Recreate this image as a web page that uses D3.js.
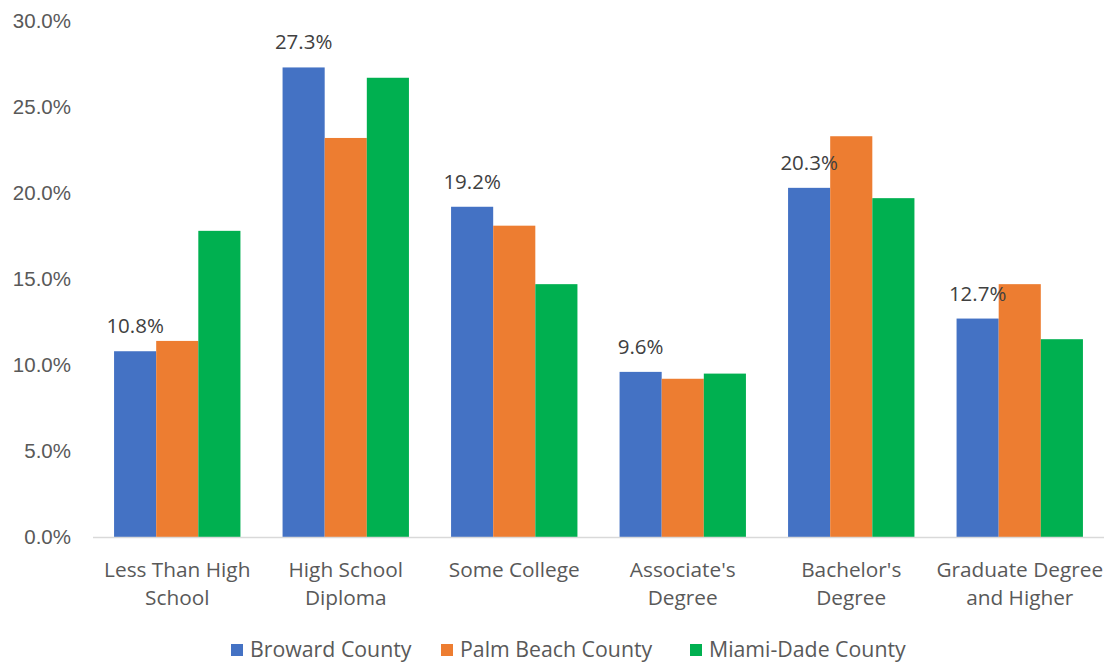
<!DOCTYPE html>
<html>
<head>
<meta charset="utf-8">
<script src="https://cdn.jsdelivr.net/npm/d3@7"></script>
<style>
  html, body { margin: 0; padding: 0; background: #ffffff; }
  svg { display: block; font-family: "Open Sans", sans-serif; }
</style>
</head>
<body>
<svg id="chart" width="1107" height="662"></svg>
<script>
// Educational attainment shares by county
const categories = [
  ["Less Than High", "School"],
  ["High School", "Diploma"],
  ["Some College"],
  ["Associate's", "Degree"],
  ["Bachelor's", "Degree"],
  ["Graduate Degree", "and Higher"]
];
const seriesNames = ["Broward County", "Palm Beach County", "Miami-Dade County"];
const seriesColors = ["#4472C4", "#ED7D31", "#00B050"];
const broward   = [10.8, 27.3, 19.2, 9.6, 20.3, 12.7];
const palmBeach = [11.4, 23.2, 18.1, 9.2, 23.3, 14.7];
const miamiDade = [17.8, 26.7, 14.7, 9.5, 19.7, 11.5];
const yTicks = [0, 5, 10, 15, 20, 25, 30];

const seriesValues = [broward, palmBeach, miamiDade];
const catKeys = categories.map(c => c.join(" "));

const svg = d3.select("#chart");
const plotLeft = 93, plotRight = 1104, plotTop = 21, plotBottom = 537;

const x0 = d3.scaleBand().domain(catKeys).range([plotLeft, plotRight])
  .paddingInner(0.25).paddingOuter(0.125);
const x1 = d3.scaleBand().domain(d3.range(seriesNames.length))
  .range([0, x0.bandwidth()]);
const y = d3.scaleLinear().domain([0, 30]).range([plotBottom, plotTop]);

// y-axis tick labels
const yAxis = d3.axisLeft(y).tickValues(yTicks)
  .tickFormat(d => d.toFixed(1) + "%").tickSize(0).tickPadding(0);
const gy = svg.append("g").attr("transform", `translate(${plotLeft - 22},0)`).call(yAxis);
gy.select(".domain").remove();
gy.selectAll("text").attr("fill", "#595959").attr("dy", "0.3em")
  .style("font-size", "20.5px").style("font-family", "inherit");

// bars
const groups = svg.append("g").selectAll("g").data(catKeys).join("g")
  .attr("transform", d => `translate(${x0(d)},0)`);
groups.selectAll("rect")
  .data((d, i) => seriesValues.map((vals, s) => ({ s, v: vals[i] })))
  .join("rect")
  .attr("x", d => x1(d.s))
  .attr("width", x1.bandwidth())
  .attr("y", d => y(d.v))
  .attr("height", d => y(0) - y(d.v))
  .attr("fill", d => seriesColors[d.s]);

// baseline
svg.append("line").attr("x1", plotLeft).attr("x2", plotRight)
  .attr("y1", y(0) + 0.5).attr("y2", y(0) + 0.5)
  .attr("stroke", "#d9d9d9").attr("stroke-width", 1.5);

// value labels on the Broward series
svg.append("g").selectAll("text").data(broward).join("text")
  .attr("x", (d, i) => x0(catKeys[i]) + x1(0) + x1.bandwidth() / 2)
  .attr("y", d => y(d) - 18)
  .attr("text-anchor", "middle")
  .attr("fill", "#404040")
  .style("font-size", "20.5px")
  .text(d => d.toFixed(1) + "%");

// category labels
const xl = svg.append("g").selectAll("text").data(categories).join("text")
  .attr("x", (d, i) => x0(catKeys[i]) + x0.bandwidth() / 2)
  .attr("y", 577)
  .attr("text-anchor", "middle")
  .attr("fill", "#595959")
  .style("font-size", "20.8px");
xl.selectAll("tspan").data(d => d).join("tspan")
  .attr("x", function () { return this.parentNode.getAttribute("x"); })
  .attr("dy", (d, i) => i === 0 ? 0 : 28)
  .text(d => d);

// legend
const legendX = [231, 441, 690];
const lg = svg.append("g").selectAll("g").data(seriesNames).join("g")
  .attr("transform", (d, i) => `translate(${legendX[i]},650)`);
lg.append("rect").attr("x", 0).attr("y", -6).attr("width", 12).attr("height", 12)
  .attr("fill", (d, i) => seriesColors[i]);
lg.append("text").attr("x", 19).attr("y", 0).attr("dy", "0.35em")
  .attr("fill", "#595959").style("font-size", "21.3px").text(d => d);
</script>
</body>
</html>
